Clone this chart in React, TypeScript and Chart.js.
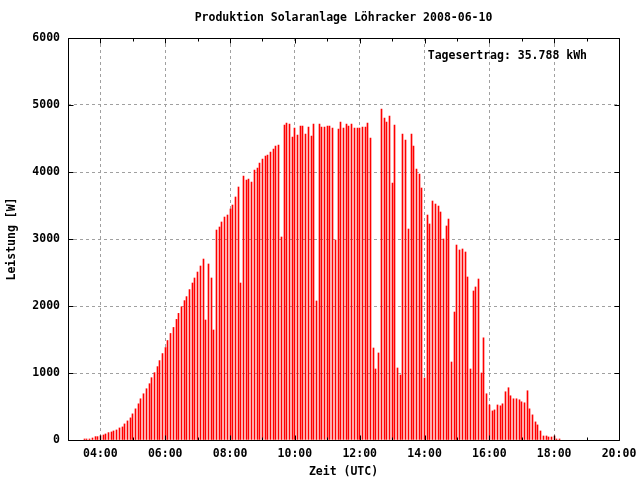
import React, { useEffect, useRef } from "react";
import { Chart, registerables } from "chart.js";

Chart.register(...registerables);

const titleText = "Produktion Solaranlage Löhracker 2008-06-10";
const yieldText = "Tagesertrag: 35.788 kWh";
const xTitle = "Zeit (UTC)";
const yTitle = "Leistung [W]";

const times = [
  "03:30", "03:35", "03:40", "03:45", "03:50", "03:55",
  "04:00", "04:05", "04:10", "04:15", "04:20", "04:25", "04:30", "04:35", "04:40", "04:45", "04:50", "04:55",
  "05:00", "05:05", "05:10", "05:15", "05:20", "05:25", "05:30", "05:35", "05:40", "05:45", "05:50", "05:55",
  "06:00", "06:05", "06:10", "06:15", "06:20", "06:25", "06:30", "06:35", "06:40", "06:45", "06:50", "06:55",
  "07:00", "07:05", "07:10", "07:15", "07:20", "07:25", "07:30", "07:35", "07:40", "07:45", "07:50", "07:55",
  "08:00", "08:05", "08:10", "08:15", "08:20", "08:25", "08:30", "08:35", "08:40", "08:45", "08:50", "08:55",
  "09:00", "09:05", "09:10", "09:15", "09:20", "09:25", "09:30", "09:35", "09:40", "09:45", "09:50", "09:55",
  "10:00", "10:05", "10:10", "10:15", "10:20", "10:25", "10:30", "10:35", "10:40", "10:45", "10:50", "10:55",
  "11:00", "11:05", "11:10", "11:15", "11:20", "11:25", "11:30", "11:35", "11:40", "11:45", "11:50", "11:55",
  "12:00", "12:05", "12:10", "12:15", "12:20", "12:25", "12:30", "12:35", "12:40", "12:45", "12:50", "12:55",
  "13:00", "13:05", "13:10", "13:15", "13:20", "13:25", "13:30", "13:35", "13:40", "13:45", "13:50", "13:55",
  "14:00", "14:05", "14:10", "14:15", "14:20", "14:25", "14:30", "14:35", "14:40", "14:45", "14:50", "14:55",
  "15:00", "15:05", "15:10", "15:15", "15:20", "15:25", "15:30", "15:35", "15:40", "15:45", "15:50", "15:55",
  "16:00", "16:05", "16:10", "16:15", "16:20", "16:25", "16:30", "16:35", "16:40", "16:45", "16:50", "16:55",
  "17:00", "17:05", "17:10", "17:15", "17:20", "17:25", "17:30", "17:35", "17:40", "17:45", "17:50", "17:55",
  "18:00", "18:05", "18:10",
];

const watts = [
  15, 15, 15, 30, 50, 50,
  65, 75, 90, 110, 120, 135, 150, 180, 195, 240, 285, 330,
  390, 465, 540, 615, 690, 765, 840, 930, 1005, 1095, 1185, 1290,
  1380, 1485, 1590, 1680, 1800, 1890, 1990, 2080, 2140, 2245, 2343, 2418,
  2507, 2597, 2701, 1791, 2627, 2418, 1642, 3134, 3179, 3254, 3328, 3358,
  3448, 3507, 3627, 3776, 2343, 3940, 3880, 3895, 3851, 4030, 4060, 4134,
  4194, 4239, 4254, 4298, 4343, 4388, 4403, 3030, 4701, 4731, 4716, 4522,
  4657, 4552, 4687, 4687, 4567, 4672, 4537, 4716, 2075, 4716, 4672, 4672,
  4687, 4687, 4657, 2985, 4642, 4746, 4657, 4716, 4687, 4716, 4657, 4657,
  4657, 4672, 4672, 4731, 4507, 1373, 1060, 1299, 4940, 4806, 4746, 4836,
  3836, 4701, 1075, 970, 4567, 4478, 3149, 4567, 4388, 4045, 3970, 3761,
  925, 3358, 3224, 3567, 3522, 3492, 3403, 3000, 3194, 3298, 1164, 1910,
  2910, 2836, 2851, 2806, 2433, 1060, 2224, 2284, 2403, 1000, 1525, 690,
  523, 434, 449, 523, 510, 540, 720, 780, 660, 615, 615, 600,
  570, 555, 735, 465, 375, 270, 225, 135, 60, 60, 45, 45,
  60, 15, 15,
];

const xTickLabels = ["04:00", "06:00", "08:00", "10:00", "12:00", "14:00", "16:00", "18:00", "20:00"];
const yTickValues = [0, 1000, 2000, 3000, 4000, 5000, 6000];
const xMin = "03:00";
const xMax = "20:00";

const FONT_FAMILY = "'DejaVu Sans Mono', 'Liberation Mono', monospace";
const FONT = { family: FONT_FAMILY, size: 11.5, weight: "bold" as const };

function toMinutes(t: string): number {
  const [h, m] = t.split(":").map(Number);
  return h * 60 + m;
}

function fmtTime(v: number): string {
  const h = Math.floor(v / 60);
  const m = v % 60;
  return `${h < 10 ? "0" : ""}${h}:${m < 10 ? "0" : ""}${m}`;
}

// snap the library-computed bar positions to whole device pixels (crisp 1px bars)
const snapPlugin = {
  id: "snapBars",
  afterDatasetsUpdate(chart: any) {
    const meta = chart.getDatasetMeta(0);
    meta.data.forEach((el: any) => {
      el.x = Math.floor(el.x) + 0.5;
      el.width = 1;
    });
  },
};

const framePlugin = {
  id: "gnuplotFrame",
  afterDatasetsDraw(chart: any) {
    const { ctx, chartArea: a, scales } = chart;
    const xs = scales.x;
    const ys = scales.y;
    const L = Math.round(a.left) + 0.5;
    const R = Math.round(a.right) + 0.5;
    const T = Math.round(a.top) + 0.5;
    const B = Math.round(a.bottom) + 0.5;
    ctx.save();
    ctx.strokeStyle = "#000";
    ctx.lineWidth = 1;
    ctx.beginPath();
    for (let v = xs.min; v <= xs.max; v += 60) {
      const px = Math.round(xs.getPixelForValue(v)) + 0.5;
      const major = xTickLabels.includes(fmtTime(v));
      const len = major ? 5 : 3;
      ctx.moveTo(px, B);
      ctx.lineTo(px, B - len);
      ctx.moveTo(px, T);
      ctx.lineTo(px, T + len);
    }
    for (const v of yTickValues) {
      const py = Math.round(ys.getPixelForValue(v)) + 0.5;
      ctx.moveTo(L, py);
      ctx.lineTo(L + 5, py);
      ctx.moveTo(R, py);
      ctx.lineTo(R - 5, py);
    }
    ctx.moveTo(L, T);
    ctx.lineTo(R, T);
    ctx.lineTo(R, B);
    ctx.lineTo(L, B);
    ctx.closePath();
    ctx.stroke();

    ctx.fillStyle = "#000";
    ctx.font = `bold 11.5px ${FONT_FAMILY}`;
    ctx.textAlign = "right";
    ctx.textBaseline = "middle";
    ctx.fillText(yieldText, a.right - 32, a.top + 18);
    ctx.restore();
  },
};

export default function App() {
  const canvasRef = useRef<HTMLCanvasElement | null>(null);

  useEffect(() => {
    const canvas = canvasRef.current;
    if (!canvas) return;
    const points = times.map((t, i) => ({ x: toMinutes(t), y: watts[i] }));
    const xTickValues = xTickLabels.map(toMinutes);

    const chart = new Chart(canvas, {
      type: "bar",
      data: {
        datasets: [
          {
            data: points as any,
            backgroundColor: "#ff0000",
            borderWidth: 0,
            barThickness: 1,
          },
        ],
      },
      plugins: [snapPlugin, framePlugin],
      options: {
        animation: false,
        responsive: false,
        events: [],
        layout: { padding: { left: 0, right: 21, top: 0, bottom: 0 } },
        plugins: {
          legend: { display: false },
          tooltip: { enabled: false },
          title: {
            display: true,
            text: titleText,
            fullSize: false,
            color: "#000",
            font: FONT,
            padding: { top: 11, bottom: 13.2 },
          },
        },
        scales: {
          x: {
            type: "linear",
            offset: false,
            min: toMinutes(xMin),
            max: toMinutes(xMax),
            afterFit(scale: any) {
              scale.height = 40;
              scale.paddingLeft = 0;
              scale.paddingRight = 0;
            },
            afterBuildTicks(scale: any) {
              scale.ticks = xTickValues.map((v) => ({ value: v }));
            },
            ticks: {
              color: "#000",
              font: FONT,
              padding: 7,
              maxRotation: 0,
              autoSkip: false,
              callback: (v: any) => fmtTime(Number(v)),
            },
            grid: {
              offset: false,
              drawTicks: false,
              color: "#a0a0a0",
              lineWidth: 1,
            },
            border: { display: false, dash: [3, 3] },
            title: {
              display: true,
              text: xTitle,
              color: "#000",
              font: FONT,
              padding: { top: 0, bottom: 1 },
            },
          },
          y: {
            type: "linear",
            min: 0,
            max: 6000,
            afterFit(scale: any) {
              scale.width = 68;
              scale.paddingTop = 0;
              scale.paddingBottom = 0;
            },
            afterBuildTicks(scale: any) {
              scale.ticks = yTickValues.map((v) => ({ value: v }));
            },
            ticks: {
              color: "#000",
              font: FONT,
              padding: 8,
              callback: (v: any) => String(v),
            },
            grid: {
              drawTicks: false,
              color: "#a0a0a0",
              lineWidth: 1,
            },
            border: { display: false, dash: [3, 3] },
            title: {
              display: true,
              text: yTitle,
              color: "#000",
              font: FONT,
              padding: { top: 5, bottom: 0 },
            },
          },
        },
      } as any,
    });

    return () => chart.destroy();
  }, []);

  return (
    <div style={{ position: "fixed", left: 0, top: 0, width: 640, height: 480, background: "#fff" }}>
      <canvas ref={canvasRef} width={640} height={480} style={{ display: "block" }} />
    </div>
  );
}
